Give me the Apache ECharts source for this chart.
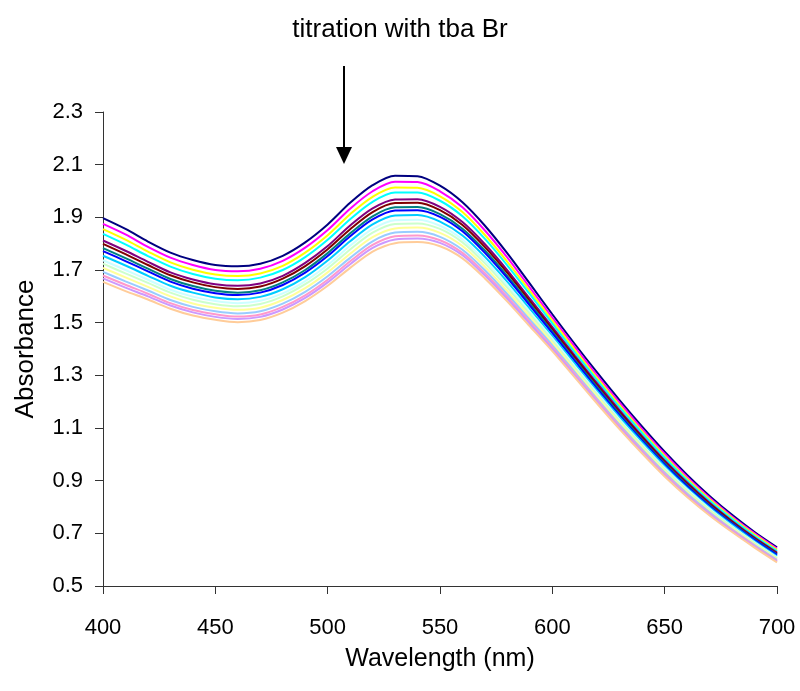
<!DOCTYPE html>
<html>
<head>
<meta charset="utf-8">
<script src="https://cdn.jsdelivr.net/npm/echarts@6/dist/echarts.min.js"></script>
<style>
html,body{margin:0;padding:0;background:#fff;}
#chart{width:800px;height:691px;}
</style>
</head>
<body>
<div id="chart"></div>
<script>
// Wavelengths (nm)
var wavelengths = [400,410,420,430,440,450,460,470,480,490,500,510,520,530,540,550,560,570,580,590,600,610,620,630,640,650,660,670,680,690,700];

// Absorbance spectra, one per titration step
var s01 = [1.897,1.856,1.808,1.766,1.738,1.719,1.714,1.724,1.754,1.805,1.873,1.955,2.022,2.058,2.056,2.020,1.957,1.868,1.763,1.648,1.532,1.419,1.310,1.205,1.105,1.010,0.922,0.842,0.770,0.705,0.647];
var s02 = [1.875,1.835,1.788,1.747,1.719,1.700,1.695,1.705,1.735,1.785,1.852,1.933,1.999,2.035,2.034,1.999,1.938,1.850,1.747,1.633,1.519,1.408,1.299,1.195,1.096,1.002,0.914,0.835,0.764,0.700,0.642];
var s03 = [1.855,1.815,1.770,1.729,1.701,1.683,1.677,1.687,1.716,1.766,1.832,1.912,1.978,2.013,2.012,1.980,1.920,1.833,1.731,1.620,1.508,1.397,1.289,1.186,1.087,0.994,0.907,0.829,0.759,0.695,0.637];
var s04 = [1.837,1.797,1.753,1.713,1.685,1.667,1.661,1.671,1.700,1.749,1.815,1.893,1.959,1.994,1.994,1.963,1.904,1.818,1.717,1.608,1.497,1.387,1.281,1.178,1.080,0.987,0.901,0.824,0.754,0.690,0.633];
var s05 = [1.812,1.773,1.731,1.691,1.664,1.646,1.640,1.649,1.678,1.727,1.791,1.869,1.934,1.968,1.969,1.940,1.882,1.798,1.699,1.591,1.483,1.375,1.269,1.167,1.069,0.977,0.893,0.816,0.747,0.684,0.627];
var s06 = [1.799,1.760,1.719,1.680,1.653,1.635,1.628,1.637,1.667,1.715,1.779,1.855,1.920,1.954,1.955,1.927,1.871,1.787,1.689,1.582,1.475,1.368,1.262,1.160,1.064,0.972,0.888,0.812,0.744,0.681,0.624];
var s07 = [1.783,1.745,1.705,1.666,1.639,1.621,1.614,1.623,1.653,1.700,1.764,1.839,1.904,1.938,1.939,1.912,1.857,1.774,1.677,1.572,1.466,1.359,1.255,1.153,1.057,0.966,0.883,0.807,0.739,0.677,0.620];
var s08 = [1.772,1.734,1.695,1.656,1.629,1.612,1.605,1.614,1.643,1.690,1.753,1.828,1.892,1.926,1.927,1.902,1.847,1.765,1.669,1.565,1.460,1.354,1.249,1.148,1.052,0.962,0.879,0.804,0.737,0.675,0.618];
var s09 = [1.754,1.717,1.678,1.640,1.614,1.596,1.589,1.598,1.627,1.673,1.736,1.809,1.873,1.907,1.909,1.884,1.831,1.750,1.655,1.552,1.449,1.344,1.240,1.140,1.045,0.955,0.872,0.798,0.732,0.670,0.613];
var s10 = [1.737,1.700,1.663,1.625,1.599,1.582,1.574,1.583,1.611,1.658,1.719,1.792,1.856,1.889,1.891,1.868,1.816,1.736,1.642,1.541,1.440,1.335,1.232,1.132,1.038,0.948,0.867,0.793,0.727,0.666,0.609];
var s11 = [1.724,1.687,1.651,1.614,1.587,1.570,1.562,1.571,1.600,1.646,1.706,1.778,1.842,1.875,1.877,1.856,1.805,1.725,1.632,1.532,1.432,1.328,1.226,1.126,1.032,0.943,0.862,0.789,0.724,0.663,0.606];
var s12 = [1.708,1.672,1.636,1.600,1.573,1.557,1.549,1.557,1.586,1.631,1.691,1.762,1.825,1.858,1.861,1.841,1.791,1.712,1.620,1.522,1.423,1.320,1.218,1.119,1.025,0.937,0.856,0.784,0.719,0.659,0.603];
var s13 = [1.693,1.657,1.622,1.586,1.560,1.543,1.535,1.543,1.572,1.617,1.676,1.746,1.809,1.842,1.845,1.826,1.777,1.699,1.608,1.511,1.414,1.312,1.210,1.112,1.019,0.931,0.851,0.780,0.715,0.655,0.599];
var s14 = [1.679,1.644,1.610,1.574,1.548,1.532,1.523,1.531,1.560,1.604,1.663,1.733,1.795,1.828,1.831,1.813,1.765,1.688,1.598,1.502,1.406,1.305,1.204,1.106,1.013,0.925,0.846,0.775,0.712,0.652,0.596];
var s15 = [1.668,1.633,1.600,1.565,1.539,1.522,1.514,1.522,1.550,1.594,1.653,1.722,1.784,1.816,1.820,1.803,1.756,1.679,1.590,1.495,1.400,1.299,1.199,1.101,1.009,0.921,0.843,0.772,0.709,0.649,0.593];
var s16 = [1.655,1.620,1.588,1.553,1.527,1.511,1.502,1.510,1.538,1.582,1.640,1.708,1.770,1.802,1.806,1.790,1.744,1.668,1.580,1.486,1.392,1.292,1.192,1.095,1.003,0.916,0.838,0.768,0.705,0.646,0.590];

var spectra = [s01,s02,s03,s04,s05,s06,s07,s08,s09,s10,s11,s12,s13,s14,s15,s16];

// Axis ticks
var yMin = 0.5, yMax = 2.3, yStep = 0.2;
var xMin = 400, xMax = 700, xStep = 50;

var titleText = 'titration with tba Br';
var xName = 'Wavelength (nm)';
var yName = 'Absorbance';

var colors = ['#000080','#FF00FF','#FFFF00','#00FFFF','#800080','#800000','#008080','#0000FF',
              '#00CCFF','#CCFFFF','#CCFFCC','#FFFF99','#99CCFF','#FF99CC','#CC99FF','#FFCC99'];

var FONT = '"Liberation Sans", Arial, sans-serif';

var series = spectra.map(function (arr, i) {
  return {
    type: 'line',
    name: 'step ' + (i + 1),
    data: wavelengths.map(function (w, j) { return [w, arr[j]]; }),
    showSymbol: false,
    smooth: 0.3,
    lineStyle: { width: 2, color: colors[i] },
    itemStyle: { color: colors[i] },
    z: 2
  };
});

var chart = echarts.init(document.getElementById('chart'), null, { renderer: 'canvas' });
chart.setOption({
  animation: false,
  backgroundColor: '#ffffff',
  title: {
    text: titleText,
    left: 'center',
    top: 12,
    textStyle: { fontFamily: FONT, fontSize: 26, fontWeight: 'normal', color: '#000' }
  },
  grid: { left: 103, right: 23, top: 112, bottom: 105, containLabel: false },
  xAxis: {
    type: 'value',
    min: xMin, max: xMax, interval: xStep,
    name: xName, nameLocation: 'middle', nameGap: 61,
    nameTextStyle: { fontFamily: FONT, fontSize: 25, color: '#000' },
    axisLine: { show: true, lineStyle: { color: '#333', width: 1 } },
    axisTick: { show: true, inside: false, length: 8, lineStyle: { color: '#333' } },
    axisLabel: { fontFamily: FONT, fontSize: 22, color: '#000', margin: 31 },
    splitLine: { show: false }
  },
  yAxis: {
    type: 'value',
    min: yMin, max: yMax, interval: yStep,
    name: yName, nameLocation: 'middle', nameGap: 64,
    nameTextStyle: { fontFamily: FONT, fontSize: 26, color: '#000' },
    axisLine: { show: true, lineStyle: { color: '#333', width: 1 } },
    axisTick: { show: true, inside: false, length: 8, lineStyle: { color: '#333' } },
    axisLabel: { fontFamily: FONT, fontSize: 22, color: '#000', margin: 20,
      formatter: function (v) { return v.toFixed(1); } },
    splitLine: { show: false }
  },
  graphic: [
    { type: 'line', shape: { x1: 344, y1: 66, x2: 344, y2: 150 }, style: { stroke: '#000', lineWidth: 2 } },
    { type: 'polygon', shape: { points: [[336, 147], [352, 147], [344, 164]] }, style: { fill: '#000' } }
  ],
  series: series
});
</script>
</body>
</html>
